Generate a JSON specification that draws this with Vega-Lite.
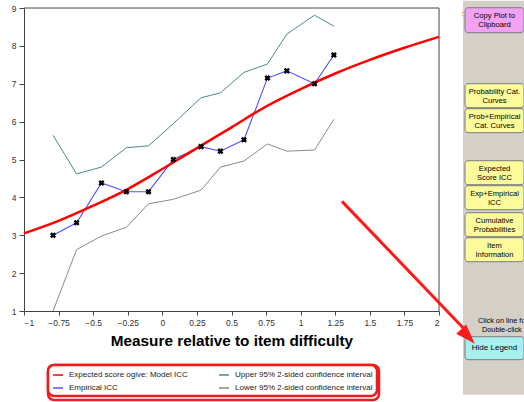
{
  "$schema": "https://vega.github.io/schema/vega-lite/v6.json",
  "padding": {"left": 10, "top": 0, "right": 0, "bottom": 0},
  "background": "white",
  "bounds": "flush",
  "spacing": 25,
  "config": {"font": "Liberation Sans", "view": {"stroke": "transparent"}},
  "datasets": {
    "curves": [
      {"series": "Expected score ogive: Model ICC", "x": -1.0, "y": 3.05},
      {"series": "Expected score ogive: Model ICC", "x": -0.75, "y": 3.38},
      {"series": "Expected score ogive: Model ICC", "x": -0.5, "y": 3.78},
      {"series": "Expected score ogive: Model ICC", "x": -0.25, "y": 4.22},
      {"series": "Expected score ogive: Model ICC", "x": 0.0, "y": 4.75},
      {"series": "Expected score ogive: Model ICC", "x": 0.25, "y": 5.3},
      {"series": "Expected score ogive: Model ICC", "x": 0.5, "y": 5.85},
      {"series": "Expected score ogive: Model ICC", "x": 0.75, "y": 6.4},
      {"series": "Expected score ogive: Model ICC", "x": 1.0, "y": 6.86},
      {"series": "Expected score ogive: Model ICC", "x": 1.25, "y": 7.27},
      {"series": "Expected score ogive: Model ICC", "x": 1.5, "y": 7.63},
      {"series": "Expected score ogive: Model ICC", "x": 1.75, "y": 7.95},
      {"series": "Expected score ogive: Model ICC", "x": 2.0, "y": 8.24},
      {"series": "Upper 95% 2-sided confidence interval", "x": -0.79, "y": 5.64},
      {"series": "Upper 95% 2-sided confidence interval", "x": -0.62, "y": 4.62},
      {"series": "Upper 95% 2-sided confidence interval", "x": -0.44, "y": 4.8},
      {"series": "Upper 95% 2-sided confidence interval", "x": -0.26, "y": 5.31},
      {"series": "Upper 95% 2-sided confidence interval", "x": -0.1, "y": 5.36},
      {"series": "Upper 95% 2-sided confidence interval", "x": 0.08, "y": 5.95},
      {"series": "Upper 95% 2-sided confidence interval", "x": 0.28, "y": 6.63},
      {"series": "Upper 95% 2-sided confidence interval", "x": 0.42, "y": 6.76},
      {"series": "Upper 95% 2-sided confidence interval", "x": 0.59, "y": 7.3},
      {"series": "Upper 95% 2-sided confidence interval", "x": 0.76, "y": 7.52},
      {"series": "Upper 95% 2-sided confidence interval", "x": 0.9, "y": 8.31},
      {"series": "Upper 95% 2-sided confidence interval", "x": 1.1, "y": 8.81},
      {"series": "Upper 95% 2-sided confidence interval", "x": 1.24, "y": 8.52},
      {"series": "Empirical ICC", "x": -0.79, "y": 3.0},
      {"series": "Empirical ICC", "x": -0.62, "y": 3.33},
      {"series": "Empirical ICC", "x": -0.44, "y": 4.38},
      {"series": "Empirical ICC", "x": -0.26, "y": 4.15},
      {"series": "Empirical ICC", "x": -0.1, "y": 4.15},
      {"series": "Empirical ICC", "x": 0.08, "y": 5.0},
      {"series": "Empirical ICC", "x": 0.28, "y": 5.34},
      {"series": "Empirical ICC", "x": 0.42, "y": 5.22},
      {"series": "Empirical ICC", "x": 0.59, "y": 5.52},
      {"series": "Empirical ICC", "x": 0.76, "y": 7.15},
      {"series": "Empirical ICC", "x": 0.9, "y": 7.34},
      {"series": "Empirical ICC", "x": 1.1, "y": 7.0},
      {"series": "Empirical ICC", "x": 1.24, "y": 7.76},
      {"series": "Lower 95% 2-sided confidence interval", "x": -0.79, "y": 1.0},
      {"series": "Lower 95% 2-sided confidence interval", "x": -0.62, "y": 2.62},
      {"series": "Lower 95% 2-sided confidence interval", "x": -0.44, "y": 2.98},
      {"series": "Lower 95% 2-sided confidence interval", "x": -0.26, "y": 3.21},
      {"series": "Lower 95% 2-sided confidence interval", "x": -0.1, "y": 3.83},
      {"series": "Lower 95% 2-sided confidence interval", "x": 0.08, "y": 3.95},
      {"series": "Lower 95% 2-sided confidence interval", "x": 0.28, "y": 4.19},
      {"series": "Lower 95% 2-sided confidence interval", "x": 0.42, "y": 4.8},
      {"series": "Lower 95% 2-sided confidence interval", "x": 0.59, "y": 4.96},
      {"series": "Lower 95% 2-sided confidence interval", "x": 0.76, "y": 5.41},
      {"series": "Lower 95% 2-sided confidence interval", "x": 0.9, "y": 5.22},
      {"series": "Lower 95% 2-sided confidence interval", "x": 1.1, "y": 5.25},
      {"series": "Lower 95% 2-sided confidence interval", "x": 1.24, "y": 6.06}
    ],
    "frame": [
      {"edge": "top", "x": -1, "x2": 2, "y": 9, "y2": 9},
      {"edge": "right", "x": 2, "x2": 2, "y": 1, "y2": 9}
    ],
    "buttons": [
      {"label": "Copy Plot to\nClipboard", "kind": "copy", "top": 7, "bottom": 32},
      {"label": "Probability Cat.\nCurves", "kind": "plot", "top": 83, "bottom": 107},
      {"label": "Prob+Empirical\nCat. Curves", "kind": "plot", "top": 108, "bottom": 132},
      {"label": "Expected\nScore ICC", "kind": "plot", "top": 160, "bottom": 184},
      {"label": "Exp+Empirical\nICC", "kind": "plot", "top": 185, "bottom": 209},
      {"label": "Cumulative\nProbabilities", "kind": "plot", "top": 212, "bottom": 236},
      {"label": "Item\nInformation", "kind": "plot", "top": 237, "bottom": 261},
      {"label": "Hide Legend", "kind": "hide", "top": 336, "bottom": 359}
    ]
  },
  "hconcat": [
    {
      "width": 415,
      "height": 303,
      "data": {"name": "curves"},
      "encoding": {
        "x": {"field": "x", "type": "quantitative",
          "scale": {"domain": [-1, 2], "nice": false, "zero": false},
          "axis": {"values": [-1, -0.75, -0.5, -0.25, 0, 0.25, 0.5, 0.75, 1, 1.25, 1.5, 1.75, 2],
            "format": ".2~f", "title": "Measure relative to item difficulty", "labelOverlap": false,
            "titleFontSize": 15.3, "titleFontWeight": "bold", "titleColor": "#000", "titlePadding": 7,
            "labelFontSize": 8.5, "labelColor": "#333", "tickSize": 4, "labelPadding": 3,
            "domainColor": "#444", "tickColor": "#444", "grid": false}},
        "y": {"field": "y", "type": "quantitative",
          "scale": {"domain": [1, 9], "nice": false, "zero": false},
          "axis": {"values": [1, 2, 3, 4, 5, 6, 7, 8, 9], "format": "d", "title": null, "labelOverlap": false,
            "labelFontSize": 8.5, "labelColor": "#333", "tickSize": 5, "labelPadding": 3,
            "domainColor": "#444", "tickColor": "#444", "grid": false}}
      },
      "layer": [
        {
          "data": {"name": "frame"},
          "mark": {"type": "rule", "color": "#444", "strokeWidth": 1},
          "encoding": {
            "x2": {"field": "x2"},
            "y2": {"field": "y2"}
          }
        },
        {
          "transform": [{"filter": "datum.series !== 'Expected score ogive: Model ICC'"}],
          "mark": {"type": "line", "interpolate": "linear"},
          "encoding": {
            "color": {"field": "series", "type": "nominal",
              "scale": {"domain": ["Expected score ogive: Model ICC", "Empirical ICC", "Upper 95% 2-sided confidence interval", "Lower 95% 2-sided confidence interval"],
                "range": ["#ff0000", "#5050ff", "#4a8b8b", "#8a8a8a"]},
              "legend": {"orient": "none", "legendX": 24, "legendY": 357, "columns": 2, "title": null,
                "symbolType": "stroke", "symbolSize": 100, "labelFontSize": 8, "labelColor": "#222",
                "labelOffset": 5, "labelLimit": 300, "strokeColor": "#ee1c1c",
                "cornerRadius": 6, "padding": 4, "columnPadding": 28, "rowPadding": 3, "fillColor": "white",
                "encode": {"legend": {"update": {"strokeWidth": {"value": 2.5}}}}}},
            "strokeWidth": {"field": "series", "type": "nominal",
              "scale": {"type": "ordinal", "domain": ["Expected score ogive: Model ICC", "Empirical ICC", "Upper 95% 2-sided confidence interval", "Lower 95% 2-sided confidence interval"],
                "range": [3.5, 1.1, 1, 1]},
              "legend": {"orient": "none", "legendX": 24, "legendY": 357, "columns": 2, "title": null,
                "symbolType": "stroke", "symbolSize": 100, "labelFontSize": 8, "labelColor": "#222",
                "labelOffset": 5, "labelLimit": 300, "strokeColor": "#ee1c1c",
                "cornerRadius": 6, "padding": 4, "columnPadding": 28, "rowPadding": 3, "fillColor": "white",
                "encode": {"legend": {"update": {"strokeWidth": {"value": 2.5}}}}}}
          }
        },
        {
          "transform": [{"filter": "datum.series === 'Expected score ogive: Model ICC'"}],
          "mark": {"type": "line", "interpolate": "monotone"},
          "encoding": {
            "color": {"field": "series", "type": "nominal"},
            "strokeWidth": {"field": "series", "type": "nominal"}
          }
        },
        {
          "transform": [{"filter": "datum.series === 'Empirical ICC'"}],
          "mark": {"type": "point", "shape": "cross", "angle": 45, "size": 38, "filled": true, "color": "#000", "opacity": 1}
        }
      ]
    },
    {
      "width": 62,
      "height": 387,
      "layer": [
        {
          "data": {"values": [{}]},
          "mark": {"type": "rect", "fill": "#d4d0c8"},
          "encoding": {
            "x": {"datum": 461, "type": "quantitative", "scale": {"domain": [462, 524], "nice": false, "zero": false}, "axis": null},
            "x2": {"datum": 530},
            "y": {"datum": 0, "type": "quantitative", "scale": {"domain": [7.3, 394.3], "nice": false, "zero": false, "reverse": true}, "axis": null},
            "y2": {"datum": 394}
          }
        },
        {
          "data": {"name": "buttons"},
          "mark": {"type": "rect", "stroke": "#7d7d7d", "strokeWidth": 1, "cornerRadius": 3},
          "encoding": {
            "x": {"datum": 463, "type": "quantitative"},
            "x2": {"datum": 522},
            "y": {"field": "top", "type": "quantitative"},
            "y2": {"field": "bottom"},
            "fill": {"field": "kind", "type": "nominal", "legend": null,
              "scale": {"domain": ["copy", "plot", "hide"], "range": ["#f2a2f2", "#fbfb9c", "#a8f0f0"]}}
          }
        },
        {
          "data": {"name": "buttons"},
          "transform": [{"filter": "datum.kind !== 'hide'"}],
          "mark": {"type": "text", "fontSize": 7.6, "color": "#000", "align": "center", "baseline": "middle", "lineBreak": "\n", "lineHeight": 9.3, "dy": 8},
          "encoding": {
            "x": {"datum": 492.5, "type": "quantitative"},
            "y": {"field": "top", "type": "quantitative"},
            "text": {"field": "label"}
          }
        },
        {
          "data": {"name": "buttons"},
          "transform": [{"filter": "datum.kind === 'hide'"}],
          "mark": {"type": "text", "fontSize": 8, "color": "#000", "align": "center", "baseline": "middle", "dy": 11.7},
          "encoding": {
            "x": {"datum": 492.5, "type": "quantitative"},
            "y": {"field": "top", "type": "quantitative"},
            "text": {"field": "label"}
          }
        },
        {
          "data": {"values": [{"note": "Click on line fo", "x": 476, "y": 320}, {"note": "Double-click", "x": 480, "y": 329.5}]},
          "mark": {"type": "text", "fontSize": 7.3, "color": "#000", "align": "left", "baseline": "middle"},
          "encoding": {
            "x": {"field": "x", "type": "quantitative"},
            "y": {"field": "y", "type": "quantitative"},
            "text": {"field": "note"}
          }
        },
        {
          "data": {"values": [{}]},
          "mark": {"type": "rule", "color": "#ff1a1a", "strokeWidth": 3},
          "encoding": {
            "x": {"datum": 340, "type": "quantitative"},
            "x2": {"datum": 461},
            "y": {"datum": 200.7, "type": "quantitative"},
            "y2": {"datum": 327}
          }
        },
        {
          "data": {"values": [{}]},
          "mark": {"type": "point", "shape": "M0,-1L0.68,1L-0.68,1Z", "filled": true, "color": "#ff1a1a", "opacity": 1, "size": 400, "angle": 137},
          "encoding": {
            "x": {"datum": 466, "type": "quantitative"},
            "y": {"datum": 335.7, "type": "quantitative"}
          }
        }
      ]
    }
  ]
}
